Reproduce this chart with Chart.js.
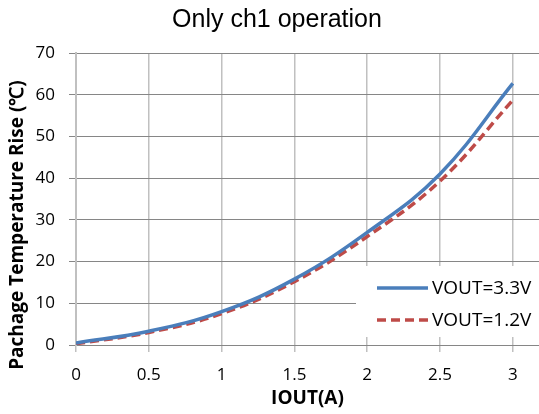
<!DOCTYPE html>
<html>
<head>
<meta charset="utf-8">
<script src="https://cdn.jsdelivr.net/npm/chart.js@4.4.1/dist/chart.umd.min.js"></script>
<style>
  html, body { margin: 0; padding: 0; background: #fff; }
  #wrap { width: 539px; height: 414px; }
</style>
</head>
<body>
<div id="wrap"><canvas id="c" width="539" height="414"></canvas></div>
<script>
// data
const iout = [0, 0.5, 1, 1.5, 2, 2.5, 3];
const rise33 = [0.5, 3.3, 8.0, 15.8, 27.0, 41.0, 62.7];
const rise12 = [0.3, 3.0, 7.5, 15.2, 26.0, 39.3, 58.7];
const xTicks = [0, 0.5, 1, 1.5, 2, 2.5, 3];
const yTicks = [0, 10, 20, 30, 40, 50, 60, 70];
const seriesNames = ["VOUT=3.3V", "VOUT=1.2V"];

const tickFont = { family: "Open Sans", size: 17 };

// legend inside the plot, bottom right, on white
const legendInPlot = {
  id: "legendInPlot",
  afterDatasetsDraw(chart) {
    const ctx = chart.ctx;
    ctx.save();
    ctx.fillStyle = "#fff";
    ctx.fillRect(356, 266, 183, 71);
    chart.data.datasets.forEach((ds, i) => {
      const y = 288 + i * 32;
      ctx.beginPath();
      ctx.strokeStyle = ds.borderColor;
      ctx.lineWidth = ds.borderWidth;
      ctx.setLineDash(ds.borderDash || []);
      ctx.moveTo(377, y);
      ctx.lineTo(428, y);
      ctx.stroke();
      ctx.setLineDash([]);
      ctx.fillStyle = "#000";
      ctx.font = "19px 'Open Sans'";
      ctx.textBaseline = "middle";
      ctx.fillText(ds.label, 432, y + 1);
    });
    ctx.restore();
  }
};

// y axis title, centred lower than the plot like the original
const yTitle = {
  id: "yTitle",
  afterDraw(chart) {
    const ctx = chart.ctx;
    ctx.save();
    ctx.translate(18, 225);
    ctx.rotate(-Math.PI / 2);
    ctx.fillStyle = "#000";
    ctx.font = "bold 19px 'Open Sans'";
    ctx.textAlign = "center";
    ctx.textBaseline = "middle";
    ctx.fillText("Pachage Temperature Rise (\u2103)", 0, 0);
    ctx.restore();
  }
};

new Chart(document.getElementById("c"), {
  type: "line",
  data: {
    datasets: [
      {
        label: seriesNames[0],
        data: iout.map((x, i) => ({ x: x, y: rise33[i] })),
        borderColor: "#4a7ebb",
        borderWidth: 3.5,
        pointRadius: 0,
        tension: 0.4,
        fill: false
      },
      {
        label: seriesNames[1],
        data: iout.map((x, i) => ({ x: x, y: rise12[i] })),
        borderColor: "#be4b48",
        borderWidth: 3.5,
        borderDash: [9, 5],
        pointRadius: 0,
        tension: 0.4,
        fill: false
      }
    ]
  },
  options: {
    responsive: false,
    animation: false,
    layout: { padding: { left: 15, right: 0, top: 0, bottom: 0 } },
    plugins: {
      legend: { display: false },
      tooltip: { enabled: false },
      title: {
        display: true,
        text: "Only ch1 operation",
        color: "#000",
        font: { family: "Liberation Sans", size: 25, weight: "normal" },
        padding: { top: 5, bottom: 18 }
      }
    },
    scales: {
      x: {
        type: "linear",
        min: 0,
        max: 3.18,
        afterBuildTicks: (s) => { s.ticks = xTicks.map((v) => ({ value: v })); },
        afterFit: (s) => { s.height = 69; },
        ticks: {
          color: "#000", font: tickFont, padding: 13, maxRotation: 0,
          callback: (v) => String(v)
        },
        grid: { color: "#c0c0c0", lineWidth: 1.5, tickLength: 7 },
        border: { color: "#868686", width: 1 },
        title: {
          display: true,
          text: "IOUT(A)",
          color: "#000",
          font: { family: "Open Sans", size: 19, weight: "bold" },
          padding: { top: 0, bottom: 4 }
        }
      },
      y: {
        min: 0,
        max: 70,
        afterBuildTicks: (s) => { s.ticks = yTicks.map((v) => ({ value: v })); },
        afterFit: (s) => { s.width = 61; },
        ticks: { color: "#000", font: tickFont, padding: 14 },
        grid: { color: "#868686", lineWidth: 1, tickLength: 7 },
        border: { color: "#c0c0c0", width: 2 }
      }
    }
  },
  plugins: [legendInPlot, yTitle]
});
</script>
</body>
</html>
